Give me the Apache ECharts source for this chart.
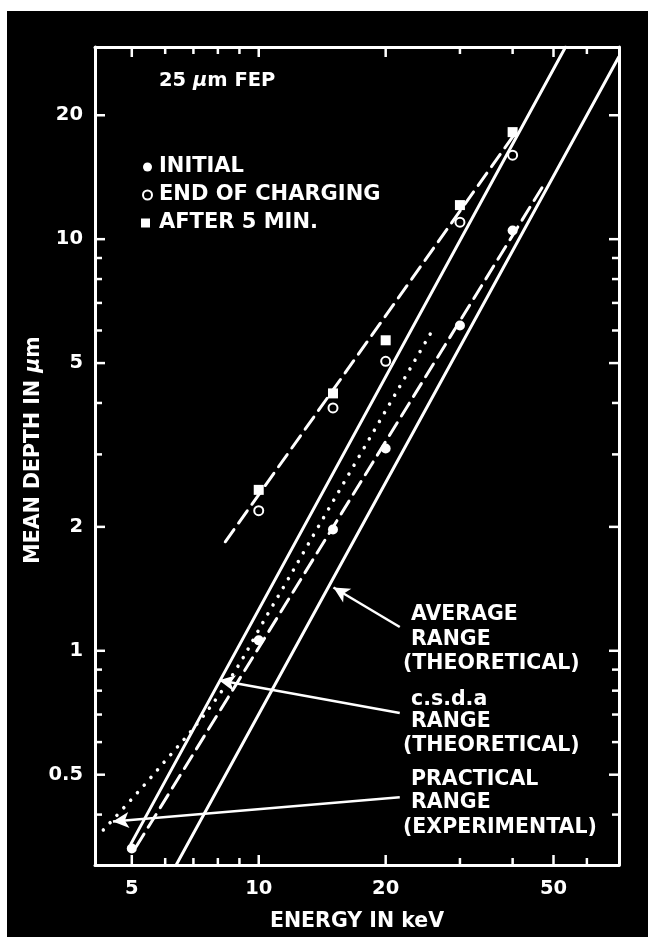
<!DOCTYPE html>
<html>
<head>
<meta charset="utf-8">
<script src="https://cdn.jsdelivr.net/npm/echarts@6/dist/echarts.min.js"></script>
<style>
  html, body { margin: 0; padding: 0; background: #fff; }
  #wrap { position: relative; width: 648px; height: 937px; overflow: hidden; background: #fff; }
  #panel { position: absolute; left: 7px; top: 11px; right: 0; bottom: 0; background: #000; }
  #chart { position: absolute; left: 0; top: 0; width: 648px; height: 937px; }
</style>
</head>
<body>
<div id="wrap"><div id="panel"></div><div id="chart"></div></div>
<script>
// Measured mean depth (µm) against beam energy (keV), 25 µm FEP
const energyInitial = [5, 10, 15, 20, 30, 40];
const depthInitial = [0.331, 1.06, 1.97, 3.10, 6.17, 10.5];
const energyEndCharging = [10, 15, 20, 30, 40];
const depthEndCharging = [2.19, 3.89, 5.05, 11.0, 16.0];
const energyAfter5Min = [10, 15, 20, 30, 40];
const depthAfter5Min = [2.46, 4.22, 5.68, 12.1, 18.2];

// Range curves [keV, µm]; the straight ones are power laws given by their end points
const csdaRange = [[4.98, 0.340], [53.4, 29.3]];
const averageRange = [[6.37, 0.3017], [71.4, 27.7]];
const practicalRange = [[4.28, 0.367], [5.68, 0.506], [8.10, 0.788], [10.77, 1.283], [13.8, 1.99], [25.5, 5.88]];
const fitInitial = [[5.12, 0.334], [47.3, 13.5]];
const fitAfter5Min = [[8.33, 1.84], [40.9, 18.3]];

// Annotation pointers: [from, to] in [keV, µm]
const arrowAverage = [[21.6, 1.142], [15.04, 1.425]];
const arrowCsda = [[21.6, 0.706], [8.05, 0.848]];
const arrowPractical = [[21.6, 0.441], [4.51, 0.385]];

// Axis ticks and labelled values
const xTicks = [5, 6, 7, 8, 9, 10, 20, 30, 40, 50, 60];
const xTickLabels = [5, 10, 20, 50];
const yTicks = [0.4, 0.5, 0.6, 0.7, 0.8, 0.9, 1, 2, 3, 4, 5, 6, 7, 8, 9, 10, 20];
const yTickLabels = [0.5, 1, 2, 5, 10, 20];

const FONT = 'DejaVu Sans';
const WHITE = '#fff';
const X_MIN = 4.09, X_MAX = 71.5, Y_MIN = 0.3017, Y_MAX = 29.3;

const zip = (xs, ys) => xs.map((x, i) => [x, ys[i]]);

function tickRenderer(dir) {
  return function (params, api) {
    const cs = params.coordSys;
    const v = dir === 'x' ? api.value(0) : api.value(1);
    const major = api.value(2) === 1;
    const len = major ? 10 : 7;
    const st = { stroke: WHITE, lineWidth: 2.5 };
    const children = [];
    if (dir === 'x') {
      const x = api.coord([v, 1])[0];
      const yb = cs.y + cs.height, yt = cs.y;
      children.push({ type: 'line', shape: { x1: x, y1: yb, x2: x, y2: yb - len }, style: st });
      children.push({ type: 'line', shape: { x1: x, y1: yt, x2: x, y2: yt + len }, style: st });
      if (major) {
        children.push({ type: 'text', x: x, y: yb + 24,
          style: { text: String(v), fill: WHITE, fontFamily: FONT, fontWeight: 'bold', fontSize: 19.5,
                   align: 'center', verticalAlign: 'middle' } });
      }
    } else {
      const y = api.coord([10, v])[1];
      const xl = cs.x, xr = cs.x + cs.width;
      children.push({ type: 'line', shape: { x1: xl, y1: y, x2: xl + len, y2: y }, style: st });
      children.push({ type: 'line', shape: { x1: xr, y1: y, x2: xr - len, y2: y }, style: st });
      if (major) {
        children.push({ type: 'text', x: xl - 12, y: y,
          style: { text: String(v), fill: WHITE, fontFamily: FONT, fontWeight: 'bold', fontSize: 19.5,
                   align: 'right', verticalAlign: 'middle' } });
      }
    }
    return { type: 'group', children: children };
  };
}

function arrowMark(seg) {
  return {
    silent: true,
    symbol: ['none', 'arrow'],
    symbolSize: [12, 16],
    label: { show: false },
    lineStyle: { color: WHITE, width: 2.5, type: 'solid' },
    emphasis: { disabled: true },
    data: [[{ coord: seg[0] }, { coord: seg[1] }]]
  };
}

function rangeLine(name, pts, type, width, arrow, smooth) {
  const s = {
    name: name, type: 'line', data: pts, showSymbol: false, silent: true, z: 2,
    smooth: smooth || false,
    lineStyle: { color: WHITE, width: width, type: type, cap: 'round' }
  };
  if (arrow) s.markLine = arrowMark(arrow);
  return s;
}

const txt = (text, x, y) => ({
  type: 'text', x: x, y: y, silent: true,
  style: { text: text, fill: WHITE, fontFamily: FONT, fontWeight: 'bold', fontSize: 20.5,
           align: 'left', verticalAlign: 'middle' }
});

const axisCommon = {
  type: 'log', logBase: 10,
  axisLine: { show: true, lineStyle: { color: WHITE, width: 3 } },
  axisTick: { show: false }, axisLabel: { show: false }, splitLine: { show: false }
};

const chart = echarts.init(document.getElementById('chart'), null, { renderer: 'canvas' });
chart.setOption({
  animation: false,
  backgroundColor: 'transparent',
  grid: { left: 95, right: 29, top: 47, bottom: 63.5 },
  xAxis: [
    Object.assign({}, axisCommon, {
      min: X_MIN, max: X_MAX, position: 'bottom',
      name: 'ENERGY IN keV', nameLocation: 'middle', nameGap: 46,
      nameTextStyle: { color: WHITE, fontFamily: FONT, fontWeight: 'bold', fontSize: 20.5 }
    }),
    Object.assign({}, axisCommon, { min: X_MIN, max: X_MAX, position: 'top' })
  ],
  yAxis: [
    Object.assign({}, axisCommon, {
      min: Y_MIN, max: Y_MAX, position: 'left',
      name: 'MEAN DEPTH IN {mu|μ}m', nameLocation: 'middle', nameGap: 51,
      nameTextStyle: { color: WHITE, fontFamily: FONT, fontWeight: 'bold', fontSize: 20.5,
                       padding: [0, 0, 0, 12],
                       rich: { mu: { color: WHITE, fontFamily: FONT, fontWeight: 'bold', fontStyle: 'italic', fontSize: 20.5 } } }
    }),
    Object.assign({}, axisCommon, { min: Y_MIN, max: Y_MAX, position: 'right' })
  ],
  legend: {
    orient: 'vertical', left: 136, top: 151,
    itemWidth: 13, itemHeight: 9, itemGap: 6, selectedMode: false,
    textStyle: { color: WHITE, fontFamily: FONT, fontWeight: 'bold', fontSize: 21, lineHeight: 22 },
    data: [
      { name: 'INITIAL', icon: 'circle', itemStyle: { color: WHITE, opacity: 1 } },
      { name: 'END OF CHARGING', icon: 'circle', itemStyle: { color: '#000', borderColor: WHITE, borderWidth: 2, opacity: 1 } },
      { name: 'AFTER 5 MIN.', icon: 'square', itemStyle: { color: WHITE, opacity: 1 } }
    ]
  },
  graphic: [
    {
      type: 'text', x: 159, y: 81, silent: true,
      style: {
        text: '25 {mu|μ}m FEP', fill: WHITE, fontFamily: FONT, fontWeight: 'bold', fontSize: 19.5,
        align: 'left', verticalAlign: 'middle',
        rich: { mu: { fill: WHITE, fontFamily: FONT, fontWeight: 'bold', fontStyle: 'italic', fontSize: 19.5 } }
      }
    },
    txt('AVERAGE', 411, 615), txt('RANGE', 411, 640), txt('(THEORETICAL)', 403, 664),
    txt('c.s.d.a', 411, 700), txt('RANGE', 411, 722), txt('(THEORETICAL)', 403, 746),
    txt('PRACTICAL', 411, 780), txt('RANGE', 411, 803), txt('(EXPERIMENTAL)', 403, 828)
  ],
  series: [
    {
      type: 'custom', name: 'xTicks', silent: true, clip: false, z: 5,
      encode: { x: 0, y: 1 },
      data: xTicks.map(v => [v, 1, xTickLabels.indexOf(v) >= 0 ? 1 : 0]),
      renderItem: tickRenderer('x')
    },
    {
      type: 'custom', name: 'yTicks', silent: true, clip: false, z: 5,
      encode: { x: 0, y: 1 },
      data: yTicks.map(v => [10, v, yTickLabels.indexOf(v) >= 0 ? 1 : 0]),
      renderItem: tickRenderer('y')
    },
    rangeLine('c.s.d.a range', csdaRange, 'solid', 3, arrowCsda),
    rangeLine('average range', averageRange, 'solid', 3, arrowAverage),
    rangeLine('practical range', practicalRange, [0.1, 10], 3.5, arrowPractical, 0.4),
    rangeLine('initial fit', fitInitial, [15, 8], 3),
    rangeLine('after 5 min fit', fitAfter5Min, [15, 8], 3),
    {
      name: 'INITIAL', type: 'scatter', z: 4, silent: true,
      symbol: 'circle', symbolSize: 10, itemStyle: { color: WHITE, opacity: 1 },
      data: zip(energyInitial, depthInitial)
    },
    {
      name: 'END OF CHARGING', type: 'scatter', z: 4, silent: true,
      symbol: 'circle', symbolSize: 9, itemStyle: { color: '#000', borderColor: WHITE, borderWidth: 2, opacity: 1 },
      data: zip(energyEndCharging, depthEndCharging)
    },
    {
      name: 'AFTER 5 MIN.', type: 'scatter', z: 4, silent: true,
      symbol: 'rect', symbolSize: 10, itemStyle: { color: WHITE, opacity: 1 },
      data: zip(energyAfter5Min, depthAfter5Min)
    }
  ]
});
</script>
</body>
</html>
